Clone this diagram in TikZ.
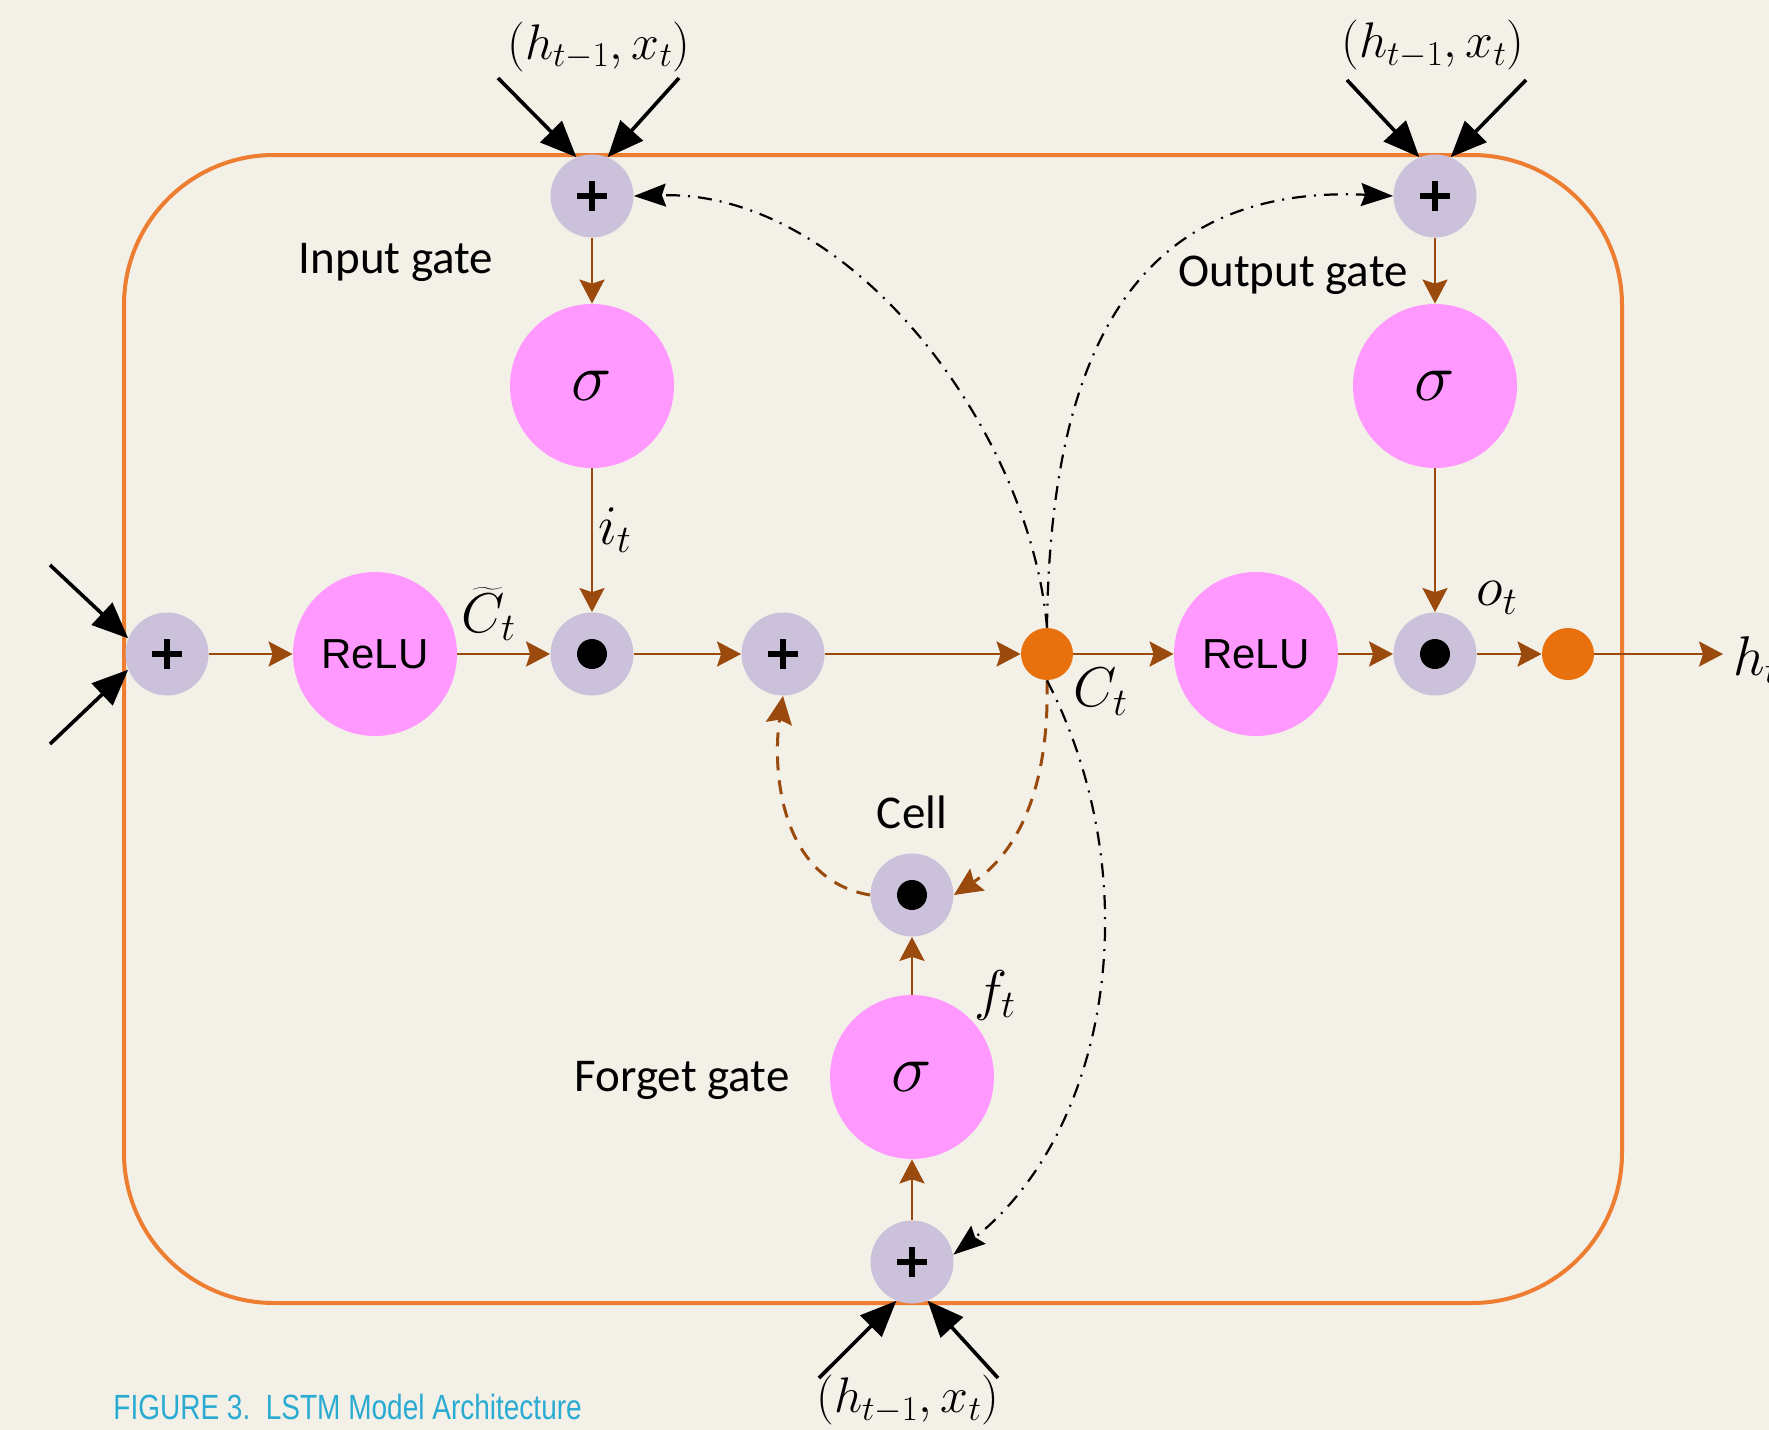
\RequirePackage{fix-cm}
\documentclass[tikz,border=0pt]{standalone}
\usepackage{fontspec}
\usetikzlibrary{arrows.meta}
\newfontfamily\lblfont{Carlito}
\newfontfamily\relufont{Liberation Sans}
\newfontfamily\capfont[FakeStretch=0.8]{Liberation Sans}
\definecolor{bgc}{HTML}{F3F0E8}
\definecolor{boxc}{HTML}{ED7D31}
\definecolor{brownc}{HTML}{9A4A0C}
\definecolor{lilac}{HTML}{CCC1DA}
\definecolor{pinkc}{HTML}{FF99FF}
\definecolor{dotc}{HTML}{E8710E}
\definecolor{capc}{HTML}{29ABD2}
\tikzset{
  sumn/.style={circle, fill=lilac, inner sep=0pt, minimum size=41.5pt,
    path picture={\draw[line width=3pt]
      (path picture bounding box.center) ++(-7.5pt,0) -- ++(15pt,0)
      (path picture bounding box.center) ++(0,-7.5pt) -- ++(0,15pt);}},
  prodn/.style={circle, fill=lilac, inner sep=0pt, minimum size=41.5pt,
    path picture={\fill[black] (path picture bounding box.center) circle[radius=7.5pt];}},
  sigm/.style={circle, fill=pinkc, inner sep=0pt, minimum size=82pt,
    font=\fontsize{34}{38}\selectfont},
  relu/.style={sigm, font=\relufont\fontsize{21}{24}\selectfont},
  cdot/.style={circle, fill=dotc, inner sep=0pt, minimum size=26pt},
  flow/.style={draw=brownc, line width=1.3pt, -{Stealth[length=12pt,width=12.5pt,inset=2pt]}},
  feed/.style={draw=black, line width=1.8pt, -{Triangle[length=18pt,width=15pt]}},
  peep/.style={draw=black, line width=1.1pt, dash pattern=on 7pt off 4pt on 1pt off 4pt,
    -{Stealth[length=16pt,width=11.5pt,inset=2pt]}},
  loop/.style={draw=brownc, line width=1.5pt, dash pattern=on 7pt off 5pt,
    -{Stealth[length=14pt,width=13pt,inset=2pt]}},
  gatelbl/.style={font=\lblfont\fontsize{23.5}{26}\selectfont},
  inlbl/.style={font=\fontsize{25}{28}\selectfont},
  varlbl/.style={font=\fontsize{28}{30}\selectfont}
}
\begin{document}
\begin{tikzpicture}[x=0.5pt,y=-0.5pt]
\useasboundingbox (0,0) rectangle (1769,1430);
\fill[bgc] (0,0) rectangle (1769,1430);

% cell boundary
\draw[boxc, line width=2pt, rounded corners=75pt] (124,155) rectangle (1622,1303);

% input gate
\node[sumn] (ip) at (592,196) {};
\node[sigm] (is) at (592,386) {$\sigma$};
% output gate
\node[sumn] (op) at (1435,196) {};
\node[sigm] (os) at (1435,386) {$\sigma$};
% main row
\node[sumn] (lp) at (167,654) {};
\node[relu] (r1) at (375,654) {ReLU};
\node[prodn] (m1) at (592,654) {};
\node[sumn] (s1) at (783,654) {};
\node[cdot] (ct) at (1047,654) {};
\node[relu] (r2) at (1256,654) {ReLU};
\node[prodn] (m2) at (1435,654) {};
\node[cdot] (hd) at (1568,654) {};
\coordinate (hend) at (1723,654);
% forget gate
\node[prodn] (cd) at (912,895) {};
\node[sigm] (fs) at (912,1077) {$\sigma$};
\node[sumn] (fp) at (912,1262) {};

% external inputs
\coordinate (ia) at (498,78);
\coordinate (ib) at (679,78);
\coordinate (oa) at (1347,80);
\coordinate (ob) at (1526,80);
\coordinate (fa) at (819,1378);
\coordinate (fb) at (998,1378);
\coordinate (la) at (50,565);
\coordinate (lb) at (50,744);
\draw[feed] (ia) -- (ip.112);
\draw[feed] (ib) -- (ip.68);
\draw[feed] (oa) -- (op.112);
\draw[feed] (ob) -- (op.68);
\draw[feed] (fa) -- (fp.-112);
\draw[feed] (fb) -- (fp.-68);
\draw[feed] (la) -- (lp.158);
\draw[feed] (lb) -- (lp.202);

% main flow
\draw[flow] (lp) -- (r1);
\draw[flow] (r1) -- (m1);
\draw[flow] (m1) -- (s1);
\draw[flow] (s1) -- (ct);
\draw[flow] (ct) -- (r2);
\draw[flow] (r2) -- (m2);
\draw[flow] (m2) -- (hd);
\draw[flow] (hd) -- (hend);
\draw[flow] (ip) -- (is);
\draw[flow] (is) -- (m1);
\draw[flow] (op) -- (os);
\draw[flow] (os) -- (m2);
\draw[flow] (fp) -- (fs);
\draw[flow] (fs) -- (cd);

% cell state recurrence
\draw[loop] (ct.south) .. controls (1050,800) and (1010,858) .. (cd.east);
\draw[loop] (cd.west) .. controls (780,880) and (772,770) .. (s1.south);

% peephole connections
\draw[peep] (ct.north) .. controls (1030,430) and (850,190) .. (ip.east);
\draw[peep] (ct.north) .. controls (1050,330) and (1150,185) .. (op.west);
\draw[peep] (ct.south) .. controls (1150,880) and (1110,1130) .. (fp.10);

% labels
\node[inlbl] (tl1) at (599,47) {$(h_{t-1},x_t)$};
\node[inlbl] (tl2) at (1433,45) {$(h_{t-1},x_t)$};
\node[inlbl] (tl3) at (908,1400) {$(h_{t-1},x_t)$};
\node[gatelbl] (g1) at (396,262) {Input gate};
\node[gatelbl] (g2) at (1293,275) {Output gate};
\node[gatelbl] (g3) at (912,812) {Cell};
\node[gatelbl] (g4) at (682,1080) {Forget gate};
\node[varlbl] (v1) at (615,530) {$i_t$};
\node[varlbl] (v2) at (489,614) {$\widetilde{C}_t$};
\node[varlbl] (v3) at (1101,692) {$C_t$};
\node[varlbl] (v4) at (1497,598) {$o_t$};
\node[varlbl] (v5) at (995,995) {$f_t$};
\node[varlbl, anchor=west, inner sep=0pt] (v6) at (1733,660) {$h_t$};

% caption
\node[anchor=west, inner sep=0pt, text=capc, font=\capfont\fontsize{17.5}{20}\selectfont] (cap) at (113,1407)
  {FIGURE 3.\ \ LSTM Model Architecture};
\end{tikzpicture}
\end{document}
